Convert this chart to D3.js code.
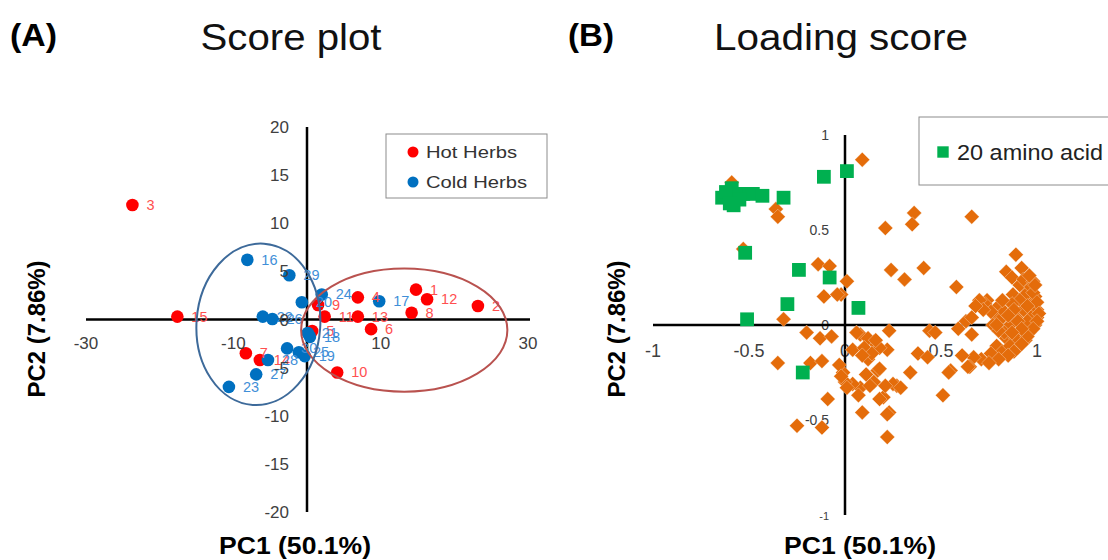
<!DOCTYPE html>
<html>
<head>
<meta charset="utf-8">
<script src="https://cdn.jsdelivr.net/npm/d3@7"></script>
<style>
  body { margin: 0; background: #fff; }
  svg { display: block; }
  text { font-family: "Liberation Sans", Arial, sans-serif; }
</style>
</head>
<body>
<svg id="chart" width="1108" height="560"></svg>
<script>
// ---------- (A) Score plot: PCA scores of the herb samples ----------
const hotLabels = ["1","2","3","4","5","6","7","8","9","10","11","12","13","14","15"];
const hotPC1    = [14.8, 23.2, -23.7, 6.9, 0.7, 8.7, -8.3, 14.2, 1.5, 4.1, 2.4, 16.3, 6.9, -6.4, -17.6];
const hotPC2    = [3.1, 1.4, 11.9, 2.3, -1.2, -1.0, -3.5, 0.7, 1.5, -5.5, 0.3, 2.1, 0.3, -4.2, 0.3];

const coldLabels = ["16","17","18","19","20","21","22","23","24","25","26","27","28","29","30"];
const coldPC1    = [-8.1, 9.8, 0.4, -0.3, -0.7, 0.1, -6.0, -10.6, 2.0, -1.1, -4.7, -6.9, -5.3, -2.4, -2.7];
const coldPC2    = [6.2, 1.9, -1.8, -3.8, 1.8, -1.4, 0.3, -7.0, 2.6, -3.4, 0.05, -5.7, -4.2, 4.6, -3.0];

const scoreTicksX = [-30, -10, 10, 30];
const scoreTicksY = [20, 15, 10, 5, 0, -5, -10, -15, -20];

// confidence ellipses around each group (centre and radii in score units)
const hotEllipse  = [13.2, -1.1, 14.0, 6.4];
const coldEllipse = [-6.6, -0.5, 8.4, 8.4];

// ---------- (B) Loading plot ----------
const aminoPC1 = [-0.64,-0.59,-0.58,-0.53,-0.57,-0.48,-0.43,-0.32,-0.11,0.01,-0.52,-0.24,-0.08,-0.30,0.07,-0.51,-0.22,-0.62,-0.55,-0.60];
const aminoPC2 = [0.67,0.72,0.63,0.69,0.68,0.69,0.68,0.67,0.78,0.81,0.38,0.29,0.25,0.11,0.09,0.03,-0.25,0.70,0.66,0.64];

const varPC1 = [
  0.09,-0.36,-0.35,0.36,0.35,0.21,0.66,0.89,0.92,0.84,0.87,0.24,0.31,0.41,0.01,0.58,-0.02,-0.14,-0.08,-0.11,-0.04,-0.32,-0.59,-0.53,
  0.74,0.79,0.875,0.92,0.95,0.97,1.00,0.91,0.84,0.79,0.82,0.90,0.76,0.71,0.67,0.65,0.66,0.61,0.55,
  0.96,0.99,1.00,0.99,0.96,0.94,0.94,0.96,0.95,0.89,0.86,0.91,0.89,0.86,0.83,0.91,0.73,0.78,0.81,0.83,0.77,0.80,0.87,0.90,0.70,0.82,0.93,0.98,
  0.97,0.98,1.00,1.01,1.00,0.98,0.95,0.92,0.88,0.85,0.80,0.75,0.93,0.95,0.88,0.85,0.92,0.87,0.79,0.76,0.72,0.68,0.96,0.99,
  0.63,0.59,0.66,0.44,0.47,0.23,0.38,0.43,0.34,0.54,0.64,0.51,0.23,0.09,0.22,0.27,0.22,0.15,0.08,0.12,0.18,0.04,0.12,0.17,0.11,0.18,0.25,0.29,0.08,0.04,-0.01,0.00,0.20,0.15,
  -0.20,-0.13,-0.07,-0.35,-0.18,-0.12,-0.03,-0.02,0.01,0.06,0.16,0.10,0.14,0.09,0.13,0.21,0.22,-0.09,-0.25,-0.12,0.07,0.18
];
const varPC2 = [
  0.87,0.61,0.57,0.59,0.53,0.51,0.57,0.37,0.30,0.28,0.25,0.29,0.24,0.30,0.23,0.20,0.16,0.32,0.31,0.15,0.16,0.03,0.75,0.40,
  0.13,0.09,0.16,0.07,0.19,0.12,0.04,-0.04,-0.07,-0.11,-0.14,-0.12,-0.15,-0.18,-0.17,-0.22,-0.05,-0.16,-0.24,
  0.18,0.15,0.08,0.00,-0.04,-0.08,0.16,0.05,0.02,-0.07,-0.11,0.13,0.04,0.00,-0.04,0.21,0.11,0.05,0.03,0.07,0.00,-0.03,0.11,0.02,0.13,0.13,0.24,0.23,
  0.20,0.17,0.12,0.06,0.02,-0.02,-0.06,-0.10,-0.14,-0.16,-0.18,-0.20,0.08,0.10,0.08,0.05,-0.02,-0.04,0.00,0.07,0.08,0.10,0.26,0.21,
  0.02,-0.02,0.04,-0.03,-0.04,-0.03,-0.15,-0.17,-0.25,-0.25,-0.22,-0.37,-0.46,-0.46,-0.59,-0.32,-0.13,-0.09,-0.05,-0.07,-0.12,-0.13,-0.18,-0.24,-0.26,-0.23,-0.31,-0.33,-0.33,-0.31,-0.25,-0.30,-0.38,-0.30,
  -0.04,-0.07,-0.06,-0.20,-0.20,-0.19,-0.21,-0.27,-0.33,-0.04,-0.08,-0.12,-0.15,-0.16,-0.32,-0.32,-0.47,-0.39,-0.53,-0.54,-0.37,-0.39
];

const loadTicksX = [-1, -0.5, 0, 0.5, 1];
const loadTicksY = [1, 0.5, 0, -0.5, -1];

// ---------- colours ----------
const HOT = "#ff0000", HOT_TEXT = "#ff4f4f";
const COLD = "#0070c0", COLD_TEXT = "#3f8fd8";
const AMINO = "#00b050", VAR = "#e46c0a";

const svg = d3.select("#chart");

// helper: text stretched to a measured width
function label(g, x, y, str, opts) {
  const t = g.append("text").attr("x", x).attr("y", y).text(str)
    .attr("font-size", opts.size).attr("fill", opts.fill || "#000")
    .attr("font-weight", opts.weight || "normal")
    .attr("text-anchor", opts.anchor || "start");
  if (opts.len) t.attr("textLength", opts.len).attr("lengthAdjust", "spacingAndGlyphs");
  if (opts.rotate) t.attr("transform", `rotate(${opts.rotate},${x},${y})`);
  return t;
}

// ================= Panel A =================
const gA = svg.append("g");
const xA = d3.scaleLinear().domain([-30, 30]).range([86, 528]);
const yA = d3.scaleLinear().domain([-20, 20]).range([512, 127]);

label(gA, 10, 46, "(A)", {size: 31, weight: "bold", len: 47});
label(gA, 291, 50, "Score plot", {size: 36, anchor: "middle", fill: "#111", len: 181});

// axes crossing at the origin
gA.append("line").attr("x1", xA(-30)).attr("x2", xA(30) + 2).attr("y1", yA(0)).attr("y2", yA(0))
  .attr("stroke", "#000").attr("stroke-width", 2.5);
gA.append("line").attr("x1", xA(0)).attr("x2", xA(0)).attr("y1", yA(20)).attr("y2", yA(-20))
  .attr("stroke", "#000").attr("stroke-width", 2.5);

// points
gA.selectAll("circle.hot").data(hotLabels).join("circle").attr("class", "hot")
  .attr("cx", (d, i) => xA(hotPC1[i])).attr("cy", (d, i) => yA(hotPC2[i])).attr("r", 6.3).attr("fill", HOT);
gA.selectAll("circle.cold").data(coldLabels).join("circle").attr("class", "cold")
  .attr("cx", (d, i) => xA(coldPC1[i])).attr("cy", (d, i) => yA(coldPC2[i])).attr("r", 6.3).attr("fill", COLD);

// sample numbers
gA.selectAll("text.hot").data(hotLabels).join("text").attr("class", "hot")
  .attr("x", (d, i) => xA(hotPC1[i]) + 14).attr("y", (d, i) => yA(hotPC2[i]) + 5)
  .attr("font-size", 14.5).attr("fill", HOT_TEXT).text(d => d);
gA.selectAll("text.cold").data(coldLabels).join("text").attr("class", "cold")
  .attr("x", (d, i) => xA(coldPC1[i]) + 14).attr("y", (d, i) => yA(coldPC2[i]) + 5)
  .attr("font-size", 14.5).attr("fill", COLD_TEXT).text(d => d);

// group ellipses
function ellipse(e, color, rot) {
  const cx = xA(e[0]), cy = yA(e[1]);
  gA.append("ellipse").attr("cx", cx).attr("cy", cy)
    .attr("rx", xA(e[0] + e[2]) - cx).attr("ry", cy - yA(e[1] + e[3]))
    .attr("transform", `rotate(${rot},${cx},${cy})`)
    .attr("fill", "none").attr("stroke", color).attr("stroke-width", 2);
}
ellipse(hotEllipse, "#b9524f", 0);
ellipse(coldEllipse, "#3d6a9a", 4);

// tick labels
gA.selectAll("text.tx").data(scoreTicksX).join("text").attr("class", "tx")
  .attr("x", d => xA(d)).attr("y", yA(0) + 29).attr("text-anchor", "middle")
  .attr("font-size", 17).attr("fill", "#404040").text(d => d);
gA.selectAll("text.ty").data(scoreTicksY).join("text").attr("class", "ty")
  .attr("x", xA(0) - 18).attr("y", d => yA(d) + 6).attr("text-anchor", "end")
  .attr("font-size", 17).attr("fill", "#404040").text(d => d);

// legend
const legA = gA.append("g");
legA.append("rect").attr("x", 386).attr("y", 134).attr("width", 161).attr("height", 64)
  .attr("fill", "#fff").attr("stroke", "#8c8c8c").attr("stroke-width", 1);
[["Hot Herbs", HOT, 152], ["Cold Herbs", COLD, 182]].forEach(([name, c, y]) => {
  legA.append("circle").attr("cx", 413).attr("cy", y).attr("r", 5.5).attr("fill", c);
  label(legA, 426, y + 6, name, {size: 17, fill: "#333", len: name === "Hot Herbs" ? 91 : 101});
});

// axis titles
label(gA, 295, 554, "PC1 (50.1%)", {size: 23, weight: "bold", anchor: "middle", len: 152});
label(gA, 45, 329, "PC2 (7.86%)", {size: 23, weight: "bold", anchor: "middle", len: 137, rotate: -90});

// ================= Panel B =================
const gB = svg.append("g");
const xB = d3.scaleLinear().domain([-1, 1]).range([653, 1037]);
const yB = d3.scaleLinear().domain([-1, 1]).range([515, 135]);

label(gB, 568, 46, "(B)", {size: 31, weight: "bold", len: 46});
label(gB, 841, 50, "Loading score", {size: 36, anchor: "middle", fill: "#111", len: 254});

// tick labels (drawn beneath the markers)
gB.selectAll("text.tx").data(loadTicksX).join("text").attr("class", "tx")
  .attr("x", d => xB(d)).attr("y", yB(0) + 32).attr("text-anchor", "middle")
  .attr("font-size", 18).attr("fill", "#404040").text(d => d);
gB.selectAll("text.ty").data(loadTicksY).join("text").attr("class", "ty")
  .attr("x", xB(0) - 16).attr("y", d => yB(d) + 5).attr("text-anchor", "end")
  .attr("font-size", d => d === -1 ? 11 : 14).attr("fill", "#404040").text(d => d);

gB.append("line").attr("x1", xB(-1)).attr("x2", xB(1)).attr("y1", yB(0)).attr("y2", yB(0))
  .attr("stroke", "#000").attr("stroke-width", 2.5);
gB.append("line").attr("x1", xB(0)).attr("x2", xB(0)).attr("y1", yB(1)).attr("y2", yB(-1))
  .attr("stroke", "#000").attr("stroke-width", 2.5);

// variable loadings (diamonds)
const diamond = d3.symbol().type(d3.symbolSquare).size(112);
gB.selectAll("path.var").data(varPC1).join("path").attr("class", "var")
  .attr("d", diamond)
  .attr("transform", (d, i) => `translate(${xB(varPC1[i])},${yB(varPC2[i])}) rotate(45)`)
  .attr("fill", VAR).attr("stroke", "#fff").attr("stroke-width", 0.3);

// amino acid loadings (squares)
const square = d3.symbol().type(d3.symbolSquare).size(190);
gB.selectAll("path.amino").data(aminoPC1).join("path").attr("class", "amino")
  .attr("d", square)
  .attr("transform", (d, i) => `translate(${xB(aminoPC1[i])},${yB(aminoPC2[i])})`)
  .attr("fill", AMINO);

// legend
const legB = gB.append("g");
legB.append("rect").attr("x", 919).attr("y", 117).attr("width", 220).attr("height", 68)
  .attr("fill", "#fff").attr("stroke", "#8c8c8c").attr("stroke-width", 1);
legB.append("path").attr("d", d3.symbol().type(d3.symbolSquare).size(130))
  .attr("transform", "translate(943,152)").attr("fill", AMINO);
label(legB, 957, 160, "20 amino acid", {size: 22, fill: "#222", len: 146});

label(gB, 860, 554, "PC1 (50.1%)", {size: 23, weight: "bold", anchor: "middle", len: 152});
label(gB, 625, 329, "PC2 (7.86%)", {size: 23, weight: "bold", anchor: "middle", len: 137, rotate: -90});
</script>
</body>
</html>
